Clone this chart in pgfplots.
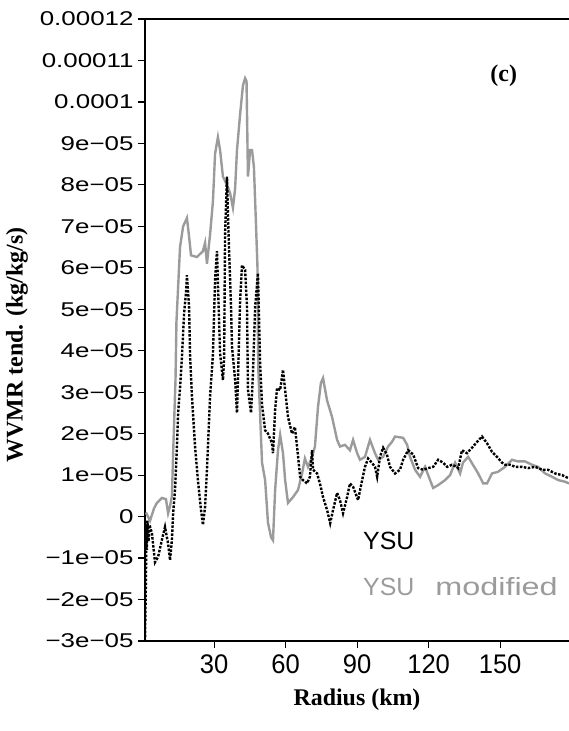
\documentclass[border=0pt]{standalone}
\usepackage{fontspec}
\setmainfont{Liberation Serif}
\newfontfamily\ytickfont[FakeStretch=1.3]{Liberation Sans}
\newfontfamily\xtickfont[FakeStretch=0.95]{Liberation Sans}
\newfontfamily\legfont{Liberation Sans}
\newfontfamily\legwidefont[FakeStretch=1.3]{Liberation Sans}
\usepackage{pgfplots}
\pgfplotsset{compat=1.18}
\usetikzlibrary{calc}
\definecolor{modgray}{RGB}{155,155,155}

\pgfplotstableread{
r v
1.4 0.1
3.1 -0.1
4.8 0.2
6.0 0.33
8.1 0.45
9.8 0.42
10.7 0.08
11.5 0.25
12.3 0.5
12.8 1.5
13.2 2.25
13.8 3.3
14.2 4.7
15.7 6.5
17.0 7.0
18.6 7.2
19.5 6.75
20.3 6.3
22.8 6.26
25.3 6.4
26.2 6.6
27.0 6.1
28.3 6.8
29.5 7.6
30.4 8.75
31.6 9.15
32.5 8.84
33.7 8.2
35.4 8.0
36.7 7.8
37.9 7.45
38.8 7.9
39.6 8.84
40.9 9.7
42.1 10.4
43.0 10.57
43.6 10.5
44.2 8.2
45.1 8.84
45.9 8.84
46.7 8.43
47.6 7.0
48.2 6.0
48.4 4.3
48.6 3.46
50.1 1.3
51.4 0.88
52.6 -0.15
53.9 -0.5
54.7 -0.57
55.6 0.64
56.8 1.6
57.7 1.97
58.9 1.53
59.8 0.88
61.0 0.33
63.1 0.47
65.2 0.64
66.9 1.04
68.1 1.4
69.4 1.2
71.1 1.44
72.3 1.69
73.6 2.65
74.8 3.22
75.7 3.34
77.4 2.8
79.5 2.4
81.6 1.85
82.8 1.69
84.9 1.73
87.0 1.6
88.3 1.85
90.0 1.53
91.2 1.37
93.3 1.44
95.4 1.85
97.5 1.53
98.8 1.37
100.9 1.44
103.0 1.69
104.6 1.8
105.9 1.93
109.3 1.9
111.0 1.73
112.2 1.44
114.3 1.13
116.4 0.96
118.5 1.2
120.6 0.88
121.9 0.69
124.0 0.76
126.9 0.88
129.0 1.0
131.1 1.3
133.2 1.04
134.4 1.3
136.6 1.44
138.6 1.25
140.8 1.04
142.9 0.8
144.5 0.8
146.6 1.04
149.1 1.08
152.1 1.2
155.0 1.37
157.5 1.33
160.5 1.33
163.4 1.25
165.9 1.2
168.9 1.04
171.8 0.96
174.4 0.88
177.3 0.84
178.9 0.8
}\modtable

\pgfplotstableread{
r v
1.0 -3.0
1.4 -1.5
1.6 -0.2
1.8 -0.8
2.0 -0.1
2.5 -0.6
2.9 -0.2
3.9 -0.4
5.2 -1.1
6.5 -0.97
8.1 -0.56
9.4 -0.25
10.2 -0.5
10.7 -0.65
11.5 -1.05
12.3 -0.56
12.8 0.08
13.6 0.64
14.4 1.69
14.9 2.5
15.7 3.1
16.5 3.85
17.4 4.9
18.2 5.4
18.6 5.82
19.5 5.05
19.9 3.9
20.7 2.9
22.0 1.69
23.2 0.88
24.5 0.16
25.3 -0.2
26.2 0.23
27.0 1.13
28.3 2.9
29.5 3.9
30.4 5.7
31.2 6.4
31.6 5.63
32.5 3.94
33.7 3.29
34.2 3.8
34.6 6.83
35.4 8.2
35.8 7.3
36.3 6.4
37.1 5.05
37.5 4.1
38.8 3.3
39.6 2.5
40.0 3.3
40.9 5.2
41.7 6.06
43.0 5.95
43.8 5.05
44.2 3.05
45.5 2.5
46.3 3.46
47.2 5.05
48.4 5.87
49.3 3.7
50.1 2.7
51.4 2.08
52.6 2.0
54.3 1.77
54.7 1.53
55.6 2.57
56.4 3.1
57.7 3.05
58.9 3.54
59.8 3.05
61.0 2.4
62.7 2.0
63.9 2.16
64.8 1.69
66.1 0.96
67.3 0.88
69.0 0.8
70.2 0.96
71.1 1.6
71.5 1.13
73.2 1.04
74.4 0.8
75.7 0.47
77.4 0.16
78.7 -0.16
79.9 0.16
81.6 0.57
82.8 0.4
84.1 0.08
85.8 0.47
87.0 0.8
88.3 0.72
90.4 0.4
92.1 0.88
93.3 1.2
94.6 1.4
96.2 1.3
97.5 1.2
98.4 0.96
99.6 1.44
100.9 1.66
102.5 1.5
103.8 1.2
105.9 1.04
108.0 1.13
109.3 1.37
111.4 1.6
113.5 1.5
115.6 1.17
117.7 1.13
119.8 1.17
121.9 1.2
124.0 1.37
126.1 1.3
127.8 1.2
129.8 1.25
131.9 1.2
132.4 1.17
134.0 1.6
136.1 1.53
138.2 1.66
140.3 1.8
142.4 1.93
144.5 1.77
146.6 1.56
148.7 1.44
150.8 1.3
152.1 1.25
154.2 1.25
156.3 1.2
159.2 1.2
161.7 1.17
164.7 1.2
167.6 1.13
170.1 1.13
173.1 1.04
176.0 1.0
178.9 0.92
}\ysutable

\begin{document}
\begin{tikzpicture}
\begin{axis}[
  scale only axis,
  width=424bp, height=622bp,
  xmin=1, xmax=178.9, ymin=-3, ymax=12,
  axis x line=box, axis y line*=left,
  axis line style={-, line width=2bp, black},
  every outer y axis line/.append style={-},
  every inner y axis line/.append style={-},
  y axis line style={-},
  xtick={30,60,90,120,150},
  xticklabels={30,60,90,120,150},
  ytick={-3,-2,...,12},
  yticklabels={−3e−05,−2e−05,−1e−05,0,1e−05,2e−05,3e−05,4e−05,5e−05,6e−05,7e−05,8e−05,9e−05,0.0001,0.00011,0.00012},
  xtick pos=lower, ytick pos=left,
  tick align=outside,
  major tick length=7bp,
  major tick style={line width=1.2bp, black},
  yticklabel style={font=\ytickfont\fontsize{20}{20}\selectfont, xshift=-1bp},
  xticklabel style={font=\xtickfont\fontsize{27}{27}\selectfont, yshift=-3bp},
  xlabel={Radius (km)},
  xlabel style={font=\bfseries\fontsize{24}{24}\selectfont, at={(axis description cs:0.5,-0.095)}, anchor=center},
  ylabel={WVMR tend. (kg/kg/s)},
  ylabel style={font=\bfseries\fontsize{24}{24}\selectfont, at={(axis description cs:-0.302,0.476)}, anchor=center},
  clip=true,
]
\addplot[modgray, line width=2.4bp] table[x=r,y=v] {\modtable};
\addplot[black, line width=2.4bp, dash pattern=on 2.5bp off 1.5bp] table[x=r,y=v] {\ysutable};
\node[anchor=west, inner sep=0pt, font=\legfont\fontsize{25}{25}\selectfont, black] at (axis description cs:0.514,0.161) {YSU};
\node[anchor=west, inner sep=0pt, font=\legfont\fontsize{25}{25}\selectfont, text=modgray] at (axis description cs:0.514,0.087) {YSU\hspace{21bp}{\legwidefont modified}};
\node[font=\bfseries\fontsize{24}{24}\selectfont] at (axis description cs:0.846,0.909) {(c)};
\coordinate (sw) at (rel axis cs:0,0);
\coordinate (ne) at (rel axis cs:1,1);
\end{axis}
\pgfresetboundingbox
\path[use as bounding box] ($(sw)+(-145bp,-90bp)$) rectangle ($(ne)+(0bp,19bp)$);
\end{tikzpicture}
\end{document}
